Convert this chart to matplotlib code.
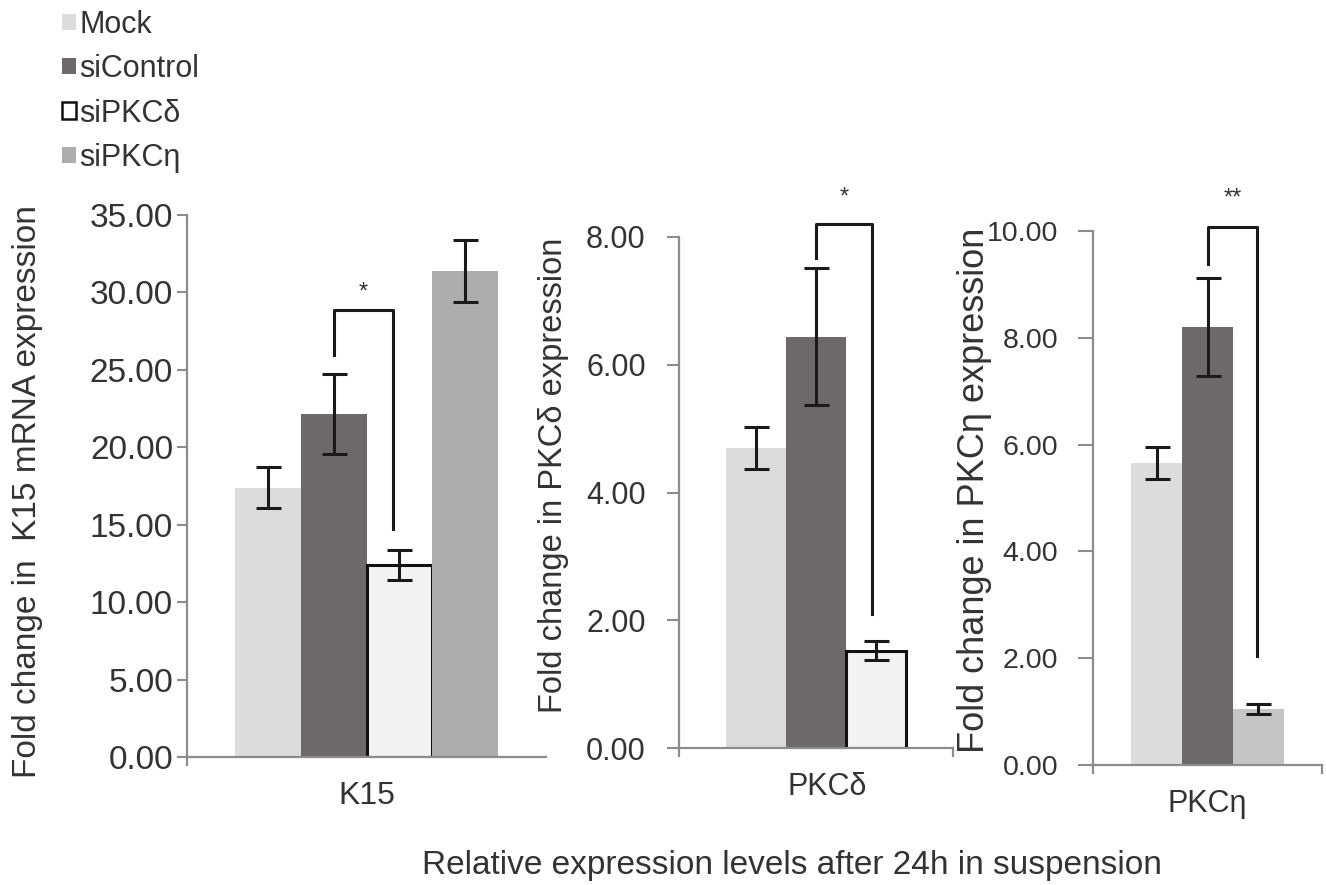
import matplotlib
matplotlib.use('Agg')
import matplotlib.pyplot as plt
from matplotlib.patches import Patch

plt.rcParams['font.family'] = ['Liberation Sans', 'DejaVu Sans']

series = ['Mock', 'siControl', 'siPKC\u03b4', 'siPKC\u03b7']
colors = ['#dcdcdc', '#6d696a', '#f3f3f3', '#adadad']

# K15 panel
k15_vals = [17.4, 22.15, 12.4, 31.4]
k15_err = [1.35, 2.6, 0.95, 2.0]
# PKCd panel
pkcd_vals = [4.7, 6.44, 1.52]
pkcd_err = [0.33, 1.07, 0.15]
# PKCeta panel
pkch_vals = [5.65, 8.2, 1.05]
pkch_err = [0.3, 0.92, 0.1]

fig = plt.figure(figsize=(13.26, 8.85), dpi=100)
axis_grey = '#8c8c8c'
txt = '#333333'


def panel(rect, vals, errs, cols, edges, half, ymax, step, ylabel, cat, cat_x,
          tick_fs, ypad, tlen, lab_fs, lab_xy, cat_fs, brk, star, pair, right_tick):
    ax = fig.add_axes(rect)
    n = len(vals)
    xs = [i - (n - 1) / 2 for i in range(n)]
    for x, v, c, e in zip(xs, vals, cols, edges):
        ax.bar(x, v, 1.0, color=c, edgecolor=e, linewidth=2.2 if e != 'none' else 0, zorder=2)
    ax.errorbar(xs, vals, yerr=errs, fmt='none', ecolor='#1a1a1a', elinewidth=2.2,
                capsize=9, capthick=2.2, zorder=3)
    ax.set_xlim(-half, half)
    ax.set_ylim(0, ymax)
    ticks = [i * step for i in range(int(round(ymax / step)) + 1)]
    ax.set_yticks(ticks)
    ax.set_yticklabels(['%.2f' % t for t in ticks], fontsize=tick_fs, color=txt)
    ax.set_xticks([cat_x])
    ax.set_xticklabels([cat], fontsize=cat_fs, color=txt)
    ax.tick_params(axis='x', length=0, pad=17)
    ax.tick_params(axis='y', length=tlen, width=1.5, color=axis_grey, pad=ypad)
    ax.set_ylabel(ylabel, fontsize=lab_fs, color=txt)
    ax.yaxis.set_label_coords(lab_xy[0], lab_xy[1])
    for s in ['top', 'right']:
        ax.spines[s].set_visible(False)
    for s in ['left', 'bottom']:
        ax.spines[s].set_color(axis_grey)
        ax.spines[s].set_linewidth(1.6)
    # small downward ticks at the ends of the category axis
    ends = [-half, half] if right_tick else [-half]
    for xe in ends:
        ax.plot([xe, xe], [0, -ymax * 0.015], color=axis_grey, lw=1.6, clip_on=False)
    # significance bracket
    xl, xr = xs[pair[0]], xs[pair[1]] + brk[3]
    ytop, yl, yr = brk[0], brk[1], brk[2]
    ax.plot([xl, xl, xr, xr], [yl, ytop, ytop, yr], color='#1a1a1a', lw=2.2,
            clip_on=False, zorder=4)
    ax.text((xl + xr) / 2, star[0], star[1], ha='center', va='center',
            fontsize=17, color=txt, clip_on=False)
    return ax


W, H = 1326, 885


def rect(x0, x1, y0, y1):
    return [x0 / W, 1 - y1 / H, (x1 - x0) / W, (y1 - y0) / H]


panel(rect(187, 546, 215, 757), k15_vals, k15_err, colors,
      ['none', 'none', '#111111', 'none'], 2.74, 35, 5,
      'Fold change in  K15 mRNA expression', 'K15', 0.0, 24, 3, 7, 24, (-0.40, 0.49), 23,
      (28.86, 25.95, 14.7, -0.1), (30.0, '*'), (1, 2), False)

panel(rect(679, 953, 237, 748), pkcd_vals, pkcd_err, colors[:3],
      ['none', 'none', '#111111'], 2.28, 8, 2,
      'Fold change in PKC\u03b4 expression', 'PKC\u03b4', 0.18, 22, 15, 9, 23.5, (-0.40, 0.534), 22,
      (8.21, 7.67, 2.1, -0.07), (8.62, '*'), (1, 2), True)

panel(rect(1093, 1322, 231, 765), pkch_vals, pkch_err,
      [colors[0], colors[1], '#c6c6c6'], ['none', 'none', 'none'], 2.25, 10, 2,
      'Fold change in PKC\u03b7 expression', 'PKC\u03b7', 0.0, 20.5, 14, 11, 26, (-0.44, 0.515), 22,
      (10.08, 9.38, 2.05, -0.02), (10.6, '**'), (1, 2), True)

handles = [Patch(facecolor=colors[0], edgecolor='none'),
           Patch(facecolor=colors[1], edgecolor='none'),
           Patch(facecolor='white', edgecolor='#111111', linewidth=1.8),
           Patch(facecolor=colors[3], edgecolor='none')]
fig.legend(handles, series, loc='upper left', bbox_to_anchor=(0.026, 1.02),
           frameon=False, fontsize=22, handlelength=0.45, handleheight=0.45,
           handletextpad=0.12, labelspacing=0.47, labelcolor=txt)

fig.text(0.597, 0.022, 'Relative expression levels after 24h in suspension',
         ha='center', va='center', fontsize=24, color=txt)

fig.savefig('out.png', dpi=100)
